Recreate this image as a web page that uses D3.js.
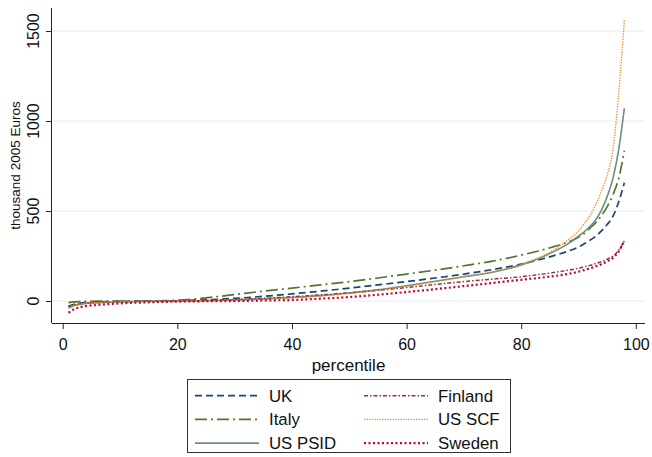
<!DOCTYPE html>
<html>
<head>
<meta charset="utf-8">
<script src="https://cdn.jsdelivr.net/npm/d3@7"></script>
<style>
  body { margin: 0; background: #fff; }
  svg { display: block; font-family: "Liberation Sans", Arial, sans-serif; }
</style>
</head>
<body>
<div id="chart"></div>
<script>
// percentiles at which the distributions are read
var percentiles = [1, 2, 3, 4, 6, 8, 10, 15, 20, 25, 30, 35, 40, 45, 50, 55, 60, 65, 70, 75, 80, 83, 86, 88, 90, 91, 92, 93, 94, 95, 96, 97, 98];

// values in thousand 2005 Euros
var ukValues     = [-28, -18, -12, -8, -5, -3, -2, 0, 2, 7, 15, 26, 40, 55, 72, 90, 108, 128, 150, 175, 205, 228, 255, 275, 300, 318, 338, 360, 390, 425, 470, 550, 657];
var italyValues  = [-9, -5, -3, -2, -1, 0, 0, 1, 5, 18, 36, 55, 72, 90, 108, 128, 150, 172, 196, 222, 255, 278, 305, 325, 355, 375, 405, 435, 475, 525, 590, 680, 835];
var psidValues   = [-39, -25, -18, -14, -10, -7, -5, -2, 0, 2, 6, 12, 20, 30, 45, 62, 85, 110, 135, 160, 200, 235, 280, 315, 360, 385, 415, 450, 505, 580, 680, 840, 1072];
var finlandValues= [-33, -22, -15, -11, -7, -5, -3, -1, 0, 3, 8, 15, 24, 34, 46, 60, 75, 92, 108, 122, 135, 147, 160, 170, 182, 190, 198, 208, 218, 232, 250, 282, 335];
var scfValues    = [-35, -22, -16, -12, -8, -6, -4, -2, 0, 2, 5, 10, 18, 28, 42, 60, 82, 108, 135, 162, 205, 240, 290, 335, 390, 430, 475, 535, 610, 700, 840, 1150, 1561];
var swedenValues = [-65, -45, -35, -28, -22, -17, -13, -7, -3, -1, 0, 3, 6, 13, 22, 35, 50, 66, 83, 100, 118, 128, 140, 150, 163, 172, 182, 192, 205, 220, 240, 275, 335];

var seriesNames = ["UK", "Italy", "US PSID", "Finland", "US SCF", "Sweden"];
var xTicks = [0, 20, 40, 60, 80, 100];
var yTicks = [0, 500, 1000, 1500];

var series = [
  {name: seriesNames[0], values: ukValues,      color: "#1a476f", dash: "7,4",        width: 1.7},
  {name: seriesNames[1], values: italyValues,   color: "#55752f", dash: "12,4,2,4",   width: 1.7},
  {name: seriesNames[2], values: psidValues,    color: "#6e8e84", dash: null,         width: 1.6},
  {name: seriesNames[3], values: finlandValues, color: "#90353b", dash: "4,2,1.5,2",  width: 1.5},
  {name: seriesNames[4], values: scfValues,     color: "#ec8a1c", dash: "1.3,1.3",    width: 1.3},
  {name: seriesNames[5], values: swedenValues,  color: "#c10534", dash: "2,2.5",      width: 2.2}
];

var svgWidth = 652;
var svgHeight = 457;

var svg = d3.select("#chart")
  .append("svg")
  .attr("width", svgWidth)
  .attr("height", svgHeight);

// plot region
var plotLeft = 52, plotRight = 645, plotTop = 8, plotBottom = 323;

var x = d3.scaleLinear().domain([-1.87, 101.6]).range([plotLeft, plotRight]);
var y = d3.scaleLinear().domain([-122, 1628]).range([plotBottom, plotTop]);

// gridlines
svg.append("g")
  .selectAll("line")
  .data(yTicks)
  .enter()
  .append("line")
  .attr("x1", plotLeft)
  .attr("x2", plotRight)
  .attr("y1", d => y(d))
  .attr("y2", d => y(d))
  .attr("stroke", "#eaf0f3")
  .attr("stroke-width", 1.3);

// lines
var line = d3.line()
  .x((d, i) => x(percentiles[i]))
  .y(d => y(d))
  .curve(d3.curveMonotoneX);

svg.append("g")
  .selectAll("path")
  .data(series)
  .enter()
  .append("path")
  .attr("d", d => line(d.values))
  .attr("fill", "none")
  .attr("stroke", d => d.color)
  .attr("stroke-width", d => d.width)
  .attr("stroke-dasharray", d => d.dash);

// axes
var bottomAxis = d3.axisBottom(x).tickValues(xTicks).tickSize(6).tickSizeOuter(0);
var leftAxis = d3.axisLeft(y).tickValues(yTicks).tickSize(6).tickSizeOuter(0).tickFormat("");

var gx = svg.append("g")
  .attr("transform", `translate(0, ${plotBottom})`)
  .call(bottomAxis);
gx.select(".domain").attr("d", `M${plotLeft},0.5H${plotRight}`).attr("stroke", "#222");
gx.selectAll(".tick line").attr("stroke", "#222");
gx.selectAll(".tick text")
  .attr("fill", "#111")
  .attr("font-size", 16)
  .attr("y", 27)
  .attr("dy", "0");

var gy = svg.append("g")
  .attr("transform", `translate(${plotLeft}, 0)`)
  .call(leftAxis);
gy.select(".domain").attr("d", `M-0.5,${plotTop}V${plotBottom}`).attr("stroke", "#222");
gy.selectAll(".tick line").attr("stroke", "#222");

// rotated y tick labels
svg.append("g")
  .selectAll("text")
  .data(yTicks)
  .enter()
  .append("text")
  .attr("transform", d => `translate(38.5, ${y(d)}) rotate(-90)`)
  .attr("text-anchor", "middle")
  .attr("font-size", 16)
  .attr("fill", "#111")
  .text(d => d);

// axis titles
svg.append("text")
  .attr("transform", `translate(20, ${(plotTop + plotBottom) / 2}) rotate(-90)`)
  .attr("text-anchor", "middle")
  .attr("font-size", 13.5)
  .attr("fill", "#111")
  .text("thousand 2005 Euros");

svg.append("text")
  .attr("x", (plotLeft + plotRight) / 2)
  .attr("y", 371)
  .attr("text-anchor", "middle")
  .attr("font-size", 17)
  .attr("fill", "#111")
  .text("percentile");

// legend
var legend = svg.append("g");
legend.append("rect")
  .attr("x", 187.5)
  .attr("y", 379.5)
  .attr("width", 323)
  .attr("height", 73)
  .attr("fill", "#fff")
  .attr("stroke", "#333")
  .attr("stroke-width", 1);

var legendItems = legend.selectAll("g.item")
  .data(series)
  .enter()
  .append("g")
  .attr("class", "item")
  .attr("transform", (d, i) => {
    var col = i < 3 ? 0 : 1;
    var row = i % 3;
    return `translate(${col === 0 ? 195 : 364}, ${401.5 + row * 23.7})`;
  });

legendItems.append("line")
  .attr("x1", 0)
  .attr("x2", 64)
  .attr("y1", -5.8)
  .attr("y2", -5.8)
  .attr("stroke", d => d.color)
  .attr("stroke-width", d => d.width)
  .attr("stroke-dasharray", d => d.dash);

legendItems.append("text")
  .attr("x", 74)
  .attr("y", 0)
  .attr("font-size", 16.8)
  .attr("fill", "#111")
  .text(d => d.name);
</script>
</body>
</html>
